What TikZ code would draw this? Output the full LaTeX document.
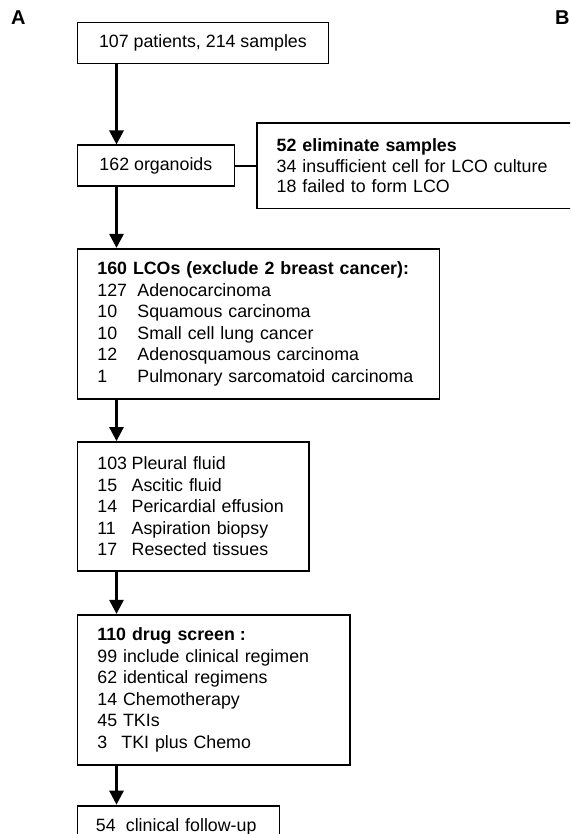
\documentclass[tikz,border=0pt]{standalone}
\usepackage{fontspec}
\setmainfont{Liberation Sans}
\usetikzlibrary{arrows.meta,positioning}

\begin{document}
\begin{tikzpicture}[x=1pt,y=-1pt,
  box/.style={draw,line width=1.8pt,inner xsep=20pt,inner ysep=0pt,anchor=north west,
              font=\fontsize{17.8pt}{21.5pt}\selectfont},
  listbox/.style={box,align=left,text width=#1},
  arr/.style={-{Triangle[length=14pt,width=14pt]},line width=2.8pt},
  link/.style={line width=2pt},
  panel/.style={font=\fontsize{20pt}{20pt}\selectfont\bfseries,inner sep=0pt,anchor=base west}]
  \useasboundingbox (0,0) rectangle (570,834);
  \fill[white] (0,0) rectangle (570,834);
  \clip (0,0) rectangle (570,834);
  \node[panel] (labA) at (11,25) {A};
  \node[panel] (labB) at (555,24.5) {B};
  \node[box,inner xsep=0pt,minimum width=251pt,minimum height=41pt] (total) at (76.5,21.7) {107 patients, 214 samples};
  \node[box,inner xsep=0pt,minimum width=157pt,minimum height=40.6pt,below=80pt of total.south west,anchor=north west] (organoids) {162 organoids};
  \node[listbox=340pt,minimum height=85.5pt,font=\fontsize{17.8pt}{20.5pt}\selectfont,right=20.5pt of organoids,anchor=west] (elim)
    {\textbf{52 eliminate samples}\\34 insufficient cell for LCO culture\\18 failed to form LCO};
  \node[listbox=322pt,minimum height=150pt,below=61pt of organoids.south west,anchor=north west] (lcos)
    {\mbox{\textbf{160 LCOs (exclude 2 breast cancer):}}\\
     \makebox[40pt][l]{127}Adenocarcinoma\\
     \makebox[40pt][l]{10}Squamous carcinoma\\
     \makebox[40pt][l]{10}Small cell lung cancer\\
     \makebox[40pt][l]{12}Adenosquamous carcinoma\\
     \makebox[40pt][l]{1}\mbox{Pulmonary sarcomatoid carcinoma}};
  \node[listbox=191.2pt,minimum height=128.8pt,below=41.4pt of lcos.south west,anchor=north west] (sources)
    {\makebox[34.3pt][l]{103}Pleural fluid\\
     \makebox[34.3pt][l]{15}Ascitic fluid\\
     \makebox[34.3pt][l]{14}Pericardial effusion\\
     \makebox[34.3pt][l]{11}Aspiration biopsy\\
     \makebox[34.3pt][l]{17}Resected tissues};
  \node[listbox=232.8pt,minimum height=150pt,below=42.2pt of sources.south west,anchor=north west] (screen)
    {\textbf{110 drug screen\hspace{5pt}:}\\
     99 include clinical regimen\\
     62 identical regimens\\
     14 Chemotherapy\\
     45 TKIs\\
     \makebox[24pt][l]{3}TKI plus Chemo};
  \node[listbox=165pt,inner xsep=18.5pt,minimum height=42pt,below=39pt of screen.south west,anchor=north west] (followup)
    {\makebox[30pt][l]{54}clinical follow-up};
  \draw[arr] ([xshift=40pt]total.south west) -- ([xshift=40pt]organoids.north west);
  \draw[link] (organoids) -- (elim);
  \draw[arr] ([xshift=40pt]organoids.south west) -- ([xshift=40pt]lcos.north west);
  \draw[arr] ([xshift=40pt]lcos.south west) -- ([xshift=40pt]sources.north west);
  \draw[arr] ([xshift=40pt]sources.south west) -- ([xshift=40pt]screen.north west);
  \draw[arr] ([xshift=40pt]screen.south west) -- ([xshift=40pt]followup.north west);
\end{tikzpicture}
\end{document}
